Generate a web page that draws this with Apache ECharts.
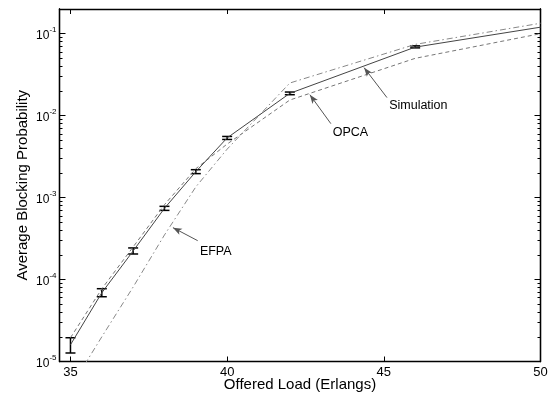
<!DOCTYPE html>
<html>
<head>
<meta charset="utf-8">
<script src="https://cdn.jsdelivr.net/npm/echarts@6/dist/echarts.min.js"></script>
<style>
  html, body { margin: 0; padding: 0; background: #fff; }
  #chart { width: 551px; height: 394px; }
</style>
</head>
<body>
<div id="chart"></div>
<script>
// offered load (x) and the three curves
var loads = [35, 36, 37, 38, 39, 40, 42, 46, 50];
var simulation = [1.6e-5, 6.9e-5, 2.23e-4, 7.4e-4, 2.07e-3, 5.35e-3, 1.87e-2, 6.85e-2, 0.12];
var simLow = [1.27e-5, 6.17e-5, 2.05e-4, 6.98e-4, 1.96e-3, 5.12e-3, 1.80e-2, 6.71e-2];
var simHigh = [1.95e-5, 7.73e-5, 2.43e-4, 7.82e-4, 2.19e-3, 5.57e-3, 1.94e-2, 7.10e-2];
var opca = [1.95e-5, 7.7e-5, 2.5e-4, 8.2e-4, 2.25e-3, 4.5e-3, 1.55e-2, 5.0e-2, 0.100];
var efpa = [4.8e-6, 2.0e-5, 8.1e-5, 3.5e-4, 1.35e-3, 3.9e-3, 2.5e-2, 7.4e-2, 0.134];

// tick labels
var xTicks = [35, 40, 45, 50];
var yTicks = [1e-5, 1e-4, 1e-3, 1e-2, 1e-1];

// annotations: text, text anchor, arrow tail, arrow tip
var noteText = ['Simulation', 'OPCA', 'EFPA'];
var noteAt = [[45.17, 0.0132], [43.37, 0.0062], [39.13, 2.19e-4]];
var noteFrom = [[45.10, 0.0166], [43.31, 0.00798], [39.06, 2.98e-4]];
var noteTo = [[44.37, 0.0385], [42.64, 0.018], [38.27, 4.3e-4]];

var font = 'Liberation Sans, Arial, Helvetica, sans-serif';

// minor ticks 2..9 x 10^n inside the range
var yMinor = [];
for (var e = -5; e <= -1; e++) {
  for (var k = 2; k <= 9; k++) {
    var v = k * Math.pow(10, e);
    if (v <= 0.2) yMinor.push(+v.toPrecision(3));
  }
}

function zip(a, b) {
  return a.map(function (x, i) { return [x, b[i]]; });
}

var errData = simLow.map(function (lo, i) { return [loads[i], lo, simHigh[i]]; });

var axisLine = { show: true, lineStyle: { color: '#000', width: 1.3 } };

function yAxisDef(pos, ticks, len, labels) {
  return {
    type: 'log',
    logBase: 10,
    min: 1e-5,
    max: 0.2,
    position: pos,
    axisLine: axisLine,
    splitLine: { show: false },
    axisTick: { show: true, inside: true, length: len, customValues: ticks, lineStyle: { color: '#000', width: 1 } },
    axisLabel: labels ? {
      show: true,
      customValues: ticks,
      margin: 3,
      formatter: function (val) {
        var p = Math.round(Math.log(val) / Math.LN10);
        return '{b|10}{s|' + p + '}';
      },
      rich: {
        b: { fontFamily: font, fontSize: 12, color: '#000', lineHeight: 16, verticalAlign: 'bottom' },
        s: { fontFamily: font, fontSize: 8, color: '#000', lineHeight: 16, verticalAlign: 'top' }
      }
    } : { show: false }
  };
}

function xAxisDef(pos, labels) {
  return {
    type: 'value',
    min: 34.65,
    max: 50,
    position: pos,
    axisLine: axisLine,
    splitLine: { show: false },
    axisTick: { show: true, inside: true, length: 5, customValues: xTicks, lineStyle: { color: '#000', width: 1 } },
    axisLabel: labels ? {
      show: true,
      customValues: xTicks,
      margin: 4,
      fontFamily: font,
      fontSize: 13,
      color: '#000'
    } : { show: false }
  };
}

var xBottom = xAxisDef('bottom', true);
xBottom.name = 'Offered Load (Erlangs)';
xBottom.nameLocation = 'middle';
xBottom.nameGap = 15.5;
xBottom.nameMoveOverlap = false;
xBottom.nameTextStyle = { fontFamily: font, fontSize: 15, color: '#000' };

var yLeft = yAxisDef('left', yTicks, 6, true);
yLeft.name = 'Average Blocking Probability';
yLeft.nameLocation = 'middle';
yLeft.nameGap = 29;
yLeft.nameMoveOverlap = false;
yLeft.nameTextStyle = { fontFamily: font, fontSize: 15, color: '#000' };

var markLines = noteFrom.map(function (p, i) {
  return [
    { coord: p, symbol: 'none' },
    { coord: noteTo[i], symbol: 'arrow', symbolSize: [5, 9] }
  ];
});

var markPoints = noteAt.map(function (p, i) {
  return {
    coord: p,
    symbol: 'circle',
    symbolSize: 0,
    label: {
      show: true,
      position: 'right',
      distance: 0,
      formatter: noteText[i],
      fontFamily: font,
      fontSize: 12.5,
      color: '#000'
    }
  };
});

var chart = echarts.init(document.getElementById('chart'), null, { renderer: 'canvas' });
chart.setOption({
  animation: false,
  backgroundColor: '#fff',
  grid: { left: 59.5, right: 10.5, top: 9, bottom: 32.5, containLabel: false, outerBoundsMode: 'none' },
  xAxis: [xBottom, xAxisDef('top', false)],
  yAxis: [
    yLeft,
    yAxisDef('left', yMinor, 3, false),
    yAxisDef('right', yTicks, 6, false),
    yAxisDef('right', yMinor, 3, false)
  ],
  series: [
    {
      name: 'EFPA',
      type: 'line',
      data: zip(loads, efpa),
      showSymbol: false,
      lineStyle: { color: '#888', width: 1, type: [6, 3, 1.5, 3] }
    },
    {
      name: 'OPCA',
      type: 'line',
      data: zip(loads, opca),
      showSymbol: false,
      lineStyle: { color: '#777', width: 1, type: [4, 3] }
    },
    {
      name: 'Simulation',
      type: 'line',
      data: zip(loads, simulation),
      showSymbol: false,
      lineStyle: { color: '#444', width: 1 },
      markLine: {
        silent: true,
        animation: false,
        lineStyle: { color: '#555', width: 1, type: 'solid' },
        label: { show: false },
        data: markLines
      },
      markPoint: {
        silent: true,
        animation: false,
        data: markPoints
      }
    },
    {
      name: 'error',
      type: 'custom',
      data: errData,
      renderItem: function (params, api) {
        var lo = api.coord([api.value(0), api.value(1)]);
        var hi = api.coord([api.value(0), api.value(2)]);
        var w = 5;
        var st = { stroke: '#000', lineWidth: 1.5 };
        return {
          type: 'group',
          children: [
            { type: 'line', shape: { x1: lo[0], y1: lo[1], x2: hi[0], y2: hi[1] }, style: st },
            { type: 'line', shape: { x1: lo[0] - w, y1: lo[1], x2: lo[0] + w, y2: lo[1] }, style: st },
            { type: 'line', shape: { x1: hi[0] - w, y1: hi[1], x2: hi[0] + w, y2: hi[1] }, style: st }
          ]
        };
      }
    }
  ]
});
</script>
</body>
</html>
